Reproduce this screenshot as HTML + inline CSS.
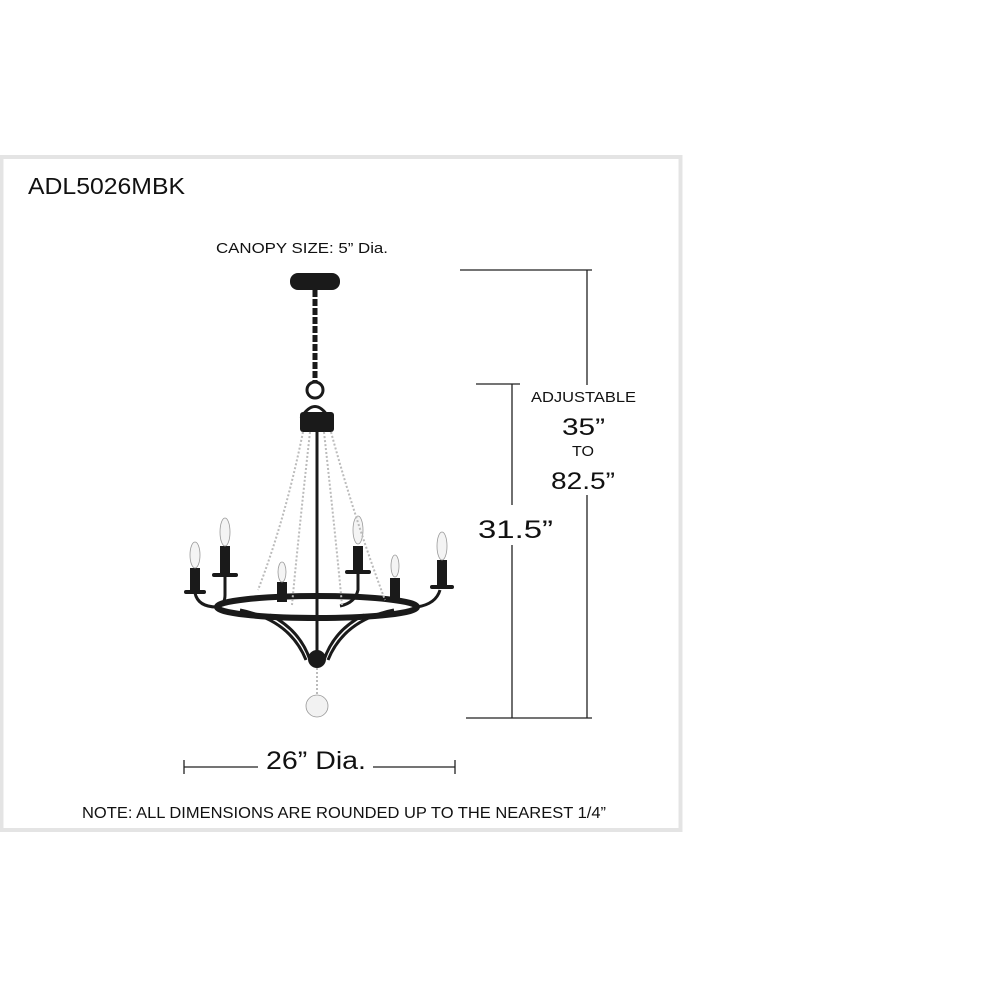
<!DOCTYPE html>
<html><head><style>
html,body{margin:0;padding:0;background:#fff;}
svg{display:block;font-family:"Liberation Sans",Arial,sans-serif;}
</style></head><body>
<svg width="1000" height="1000" viewBox="0 0 1000 1000" xmlns="http://www.w3.org/2000/svg">
<rect x="0" y="0" width="1000" height="1000" fill="#fff"/>
<rect x="1.5" y="157" width="679" height="673" fill="none" stroke="#e4e4e4" stroke-width="4"/>
<text x="28" y="194" font-size="23" textLength="157" lengthAdjust="spacingAndGlyphs" fill="#111">ADL5026MBK</text>
<text x="216" y="253" font-size="15" textLength="172" lengthAdjust="spacingAndGlyphs" fill="#111">CANOPY SIZE:  5” Dia.</text>

<g stroke="#222" stroke-width="1.3" fill="none">
<line x1="460" y1="270" x2="592" y2="270"/>
<line x1="587" y1="270" x2="587" y2="718"/>
<line x1="476" y1="384" x2="520" y2="384"/>
<line x1="512" y1="384" x2="512" y2="718"/>
<line x1="466" y1="718" x2="592" y2="718"/>
<line x1="184" y1="767" x2="258" y2="767"/>
<line x1="184" y1="760" x2="184" y2="774"/>
<line x1="373" y1="767" x2="455" y2="767"/>
<line x1="455" y1="760" x2="455" y2="774"/>
</g>
<rect x="508" y="505" width="10" height="40" fill="#fff"/>
<rect x="583" y="385" width="8" height="110" fill="#fff"/>
<text x="531" y="402" font-size="15" textLength="105" lengthAdjust="spacingAndGlyphs" fill="#111">ADJUSTABLE</text>
<text x="562" y="435" font-size="24" textLength="43" lengthAdjust="spacingAndGlyphs" fill="#111">35”</text>
<text x="572" y="456" font-size="15" textLength="22" lengthAdjust="spacingAndGlyphs" fill="#111">TO</text>
<text x="551" y="489" font-size="24" textLength="64" lengthAdjust="spacingAndGlyphs" fill="#111">82.5”</text>
<text x="478" y="538" font-size="25" textLength="75" lengthAdjust="spacingAndGlyphs" fill="#111">31.5”</text>
<text x="266" y="769" font-size="25" textLength="100" lengthAdjust="spacingAndGlyphs" fill="#111">26” Dia.</text>
<text x="82" y="818" font-size="15.5" textLength="524" lengthAdjust="spacingAndGlyphs" fill="#111">NOTE: ALL DIMENSIONS ARE ROUNDED UP TO THE NEAREST 1/4”</text>

<g fill="#1a1a1a" stroke="#1a1a1a">
<rect x="290" y="273" width="50" height="17" rx="8" stroke="none"/>
<g fill="none" stroke-width="3">
<path d="M315 290 L315 382" stroke-width="5" stroke-dasharray="7 2"/>
<circle cx="315" cy="390" r="8"/>
<path d="M301 418 Q315 395 329 418"/>
<line x1="317" y1="430" x2="317" y2="655"/>
<ellipse cx="317" cy="607" rx="100" ry="11" stroke-width="6"/>
<path d="M240 610 Q290 620 306 660"/>
<path d="M270 615 Q300 630 310 660"/>
<path d="M394 610 Q344 620 328 660"/>
<path d="M364 615 Q334 630 324 660"/>
<path d="M225 576 L225 595 Q225 605 217 607"/>
<path d="M195 593 Q198 607 217 607"/>
<path d="M358 570 L358 590 Q355 603 340 606"/>
<path d="M440 590 Q436 604 417 607"/>
</g>
<rect x="300" y="412" width="34" height="20" rx="3" stroke="none"/>
<circle cx="317" cy="659" r="9" stroke="none"/>
<rect x="190" y="568" width="10" height="22" stroke="none"/>
<rect x="184" y="590" width="22" height="4" rx="2" stroke="none"/>
<rect x="220" y="546" width="10" height="28" stroke="none"/>
<rect x="212" y="573" width="26" height="4" rx="2" stroke="none"/>
<rect x="277" y="582" width="10" height="20" stroke="none"/>
<rect x="353" y="546" width="10" height="28" stroke="none"/>
<rect x="345" y="570" width="26" height="4" rx="2" stroke="none"/>
<rect x="390" y="578" width="10" height="22" stroke="none"/>
<rect x="437" y="560" width="10" height="26" stroke="none"/>
<rect x="430" y="585" width="24" height="4" rx="2" stroke="none"/>
</g>
<g fill="#f4f4f4" stroke="#999" stroke-width="0.8">
<ellipse cx="195" cy="555" rx="5" ry="13"/>
<ellipse cx="225" cy="532" rx="5" ry="14"/>
<ellipse cx="282" cy="572" rx="4" ry="10"/>
<ellipse cx="358" cy="530" rx="5" ry="14"/>
<ellipse cx="395" cy="566" rx="4" ry="11"/>
<ellipse cx="442" cy="546" rx="5" ry="14"/>
<circle cx="317" cy="706" r="11" fill="#f2f2f2"/>
</g>
<g fill="none" stroke="#bbb" stroke-width="2" stroke-dasharray="2 2">
<path d="M303 432 Q285 520 258 590"/>
<path d="M310 432 Q298 540 292 605"/>
<path d="M324 432 Q336 540 342 605"/>
<path d="M331 432 Q355 520 385 600"/>
<path d="M317 668 L317 695"/>
</g>
</svg>
</body></html>
